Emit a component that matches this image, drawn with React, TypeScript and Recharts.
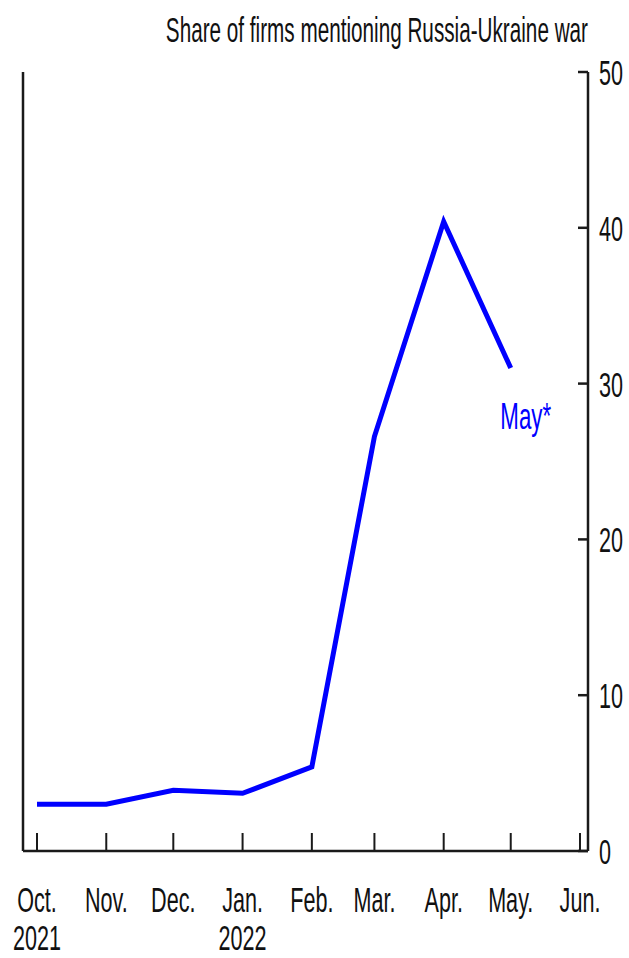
// @ts-nocheck
import React from "react";
import { LineChart, Line, XAxis, YAxis } from "recharts";

const monthLabels = ["Oct.", "Nov.", "Dec.", "Jan.", "Feb.", "Mar.", "Apr.", "May.", "Jun."];
const yearLabels = ["2021", "", "", "2022", "", "", "", "", ""];
const monthDates = [
  "2021-10-01", "2021-11-01", "2021-12-01", "2022-01-01", "2022-02-01",
  "2022-03-01", "2022-04-01", "2022-05-01", "2022-06-01",
];
const warShare = [3.0, 3.0, 3.9, 3.7, 5.4, 26.6, 40.4, 31.0, null];
const yTicks = [0, 10, 20, 30, 40, 50];

const W = 629;
const H = 958;
const FONT = "'Liberation Sans', Arial, sans-serif";
const SX = 0.6;
const FS = 36;
const AXIS = "#1a1a1a";

const times = monthDates.map((d) => Date.parse(d + "T00:00:00Z"));
const data = times.map((t, i) => ({ t, value: warShare[i] }));
const labelFor = (t) => times.indexOf(t);

const Txt = ({ x, y, anchor = "middle", fill = "#111", sx = SX, children }) => (
  <text
    transform={`translate(${x} ${y}) scale(${sx} 1)`}
    textAnchor={anchor}
    fontSize={FS}
    fontFamily={FONT}
    fill={fill}
  >
    {children}
  </text>
);

const XTick = ({ x, y, payload }) => {
  const i = labelFor(payload.value);
  return (
    <g>
      <line x1={x} x2={x} y1={y} y2={y - 18} stroke={AXIS} strokeWidth={2} />
      <Txt x={x} y={y + 61}>{monthLabels[i]}</Txt>
      {yearLabels[i] ? <Txt x={x} y={y + 99}>{yearLabels[i]}</Txt> : null}
    </g>
  );
};

const LeftTick = ({ x, y }) => (
  <line x1={x} x2={x + 10} y1={y} y2={y} stroke={AXIS} strokeWidth={2.5} />
);

const RightTick = ({ x, y, payload }) => (
  <g>
    <line x1={x} x2={x - 10} y1={y} y2={y} stroke={AXIS} strokeWidth={2.5} />
    <Txt x={x + 11} y={y + 13} anchor="start">{payload.value}</Txt>
  </g>
);

const MayLabel = (props) => {
  const { x, y, index } = props;
  if (index !== 7) return null;
  return (
    <Txt x={x + 15} y={y + 61} fill="#0000ff" sx={0.62}>May*</Txt>
  );
};

export default function App() {
  return (
    <div style={{ position: "absolute", left: 0, top: 0, width: W, height: H, background: "#fff" }}>
      <LineChart width={W} height={H} data={data} margin={{ top: 72, right: 0, bottom: 0, left: 0 }}>
        <XAxis
          dataKey="t"
          type="number"
          scale="linear"
          domain={[times[0], times[times.length - 1]]}
          ticks={times}
          padding={{ left: 14, right: 8 }}
          height={107}
          tickSize={0}
          tickMargin={0}
          tickLine={false}
          tick={<XTick />}
          axisLine={{ stroke: AXIS, strokeWidth: 2.5 }}
          interval={0}
        />
        <YAxis
          yAxisId="left"
          orientation="left"
          width={23}
          domain={[0, 50]}
          ticks={yTicks}
          tickSize={0}
          tickMargin={0}
          tickLine={false}
          tick={<LeftTick />}
          axisLine={{ stroke: AXIS, strokeWidth: 2.5 }}
        />
        <YAxis
          yAxisId="right"
          orientation="right"
          width={41}
          domain={[0, 50]}
          ticks={yTicks}
          tickSize={0}
          tickMargin={0}
          tickLine={false}
          tick={<RightTick />}
          axisLine={{ stroke: AXIS, strokeWidth: 2.5 }}
        />
        <Line
          yAxisId="right"
          dataKey="value"
          stroke="#0000ff"
          strokeWidth={5}
          dot={false}
          connectNulls={false}
          isAnimationActive={false}
          label={<MayLabel />}
        />
      </LineChart>
      <svg width={W} height={70} style={{ position: "absolute", left: 0, top: 0 }}>
        <Txt x={588} y={42} anchor="end" sx={0.575}>Share of firms mentioning Russia-Ukraine war</Txt>
      </svg>
    </div>
  );
}
